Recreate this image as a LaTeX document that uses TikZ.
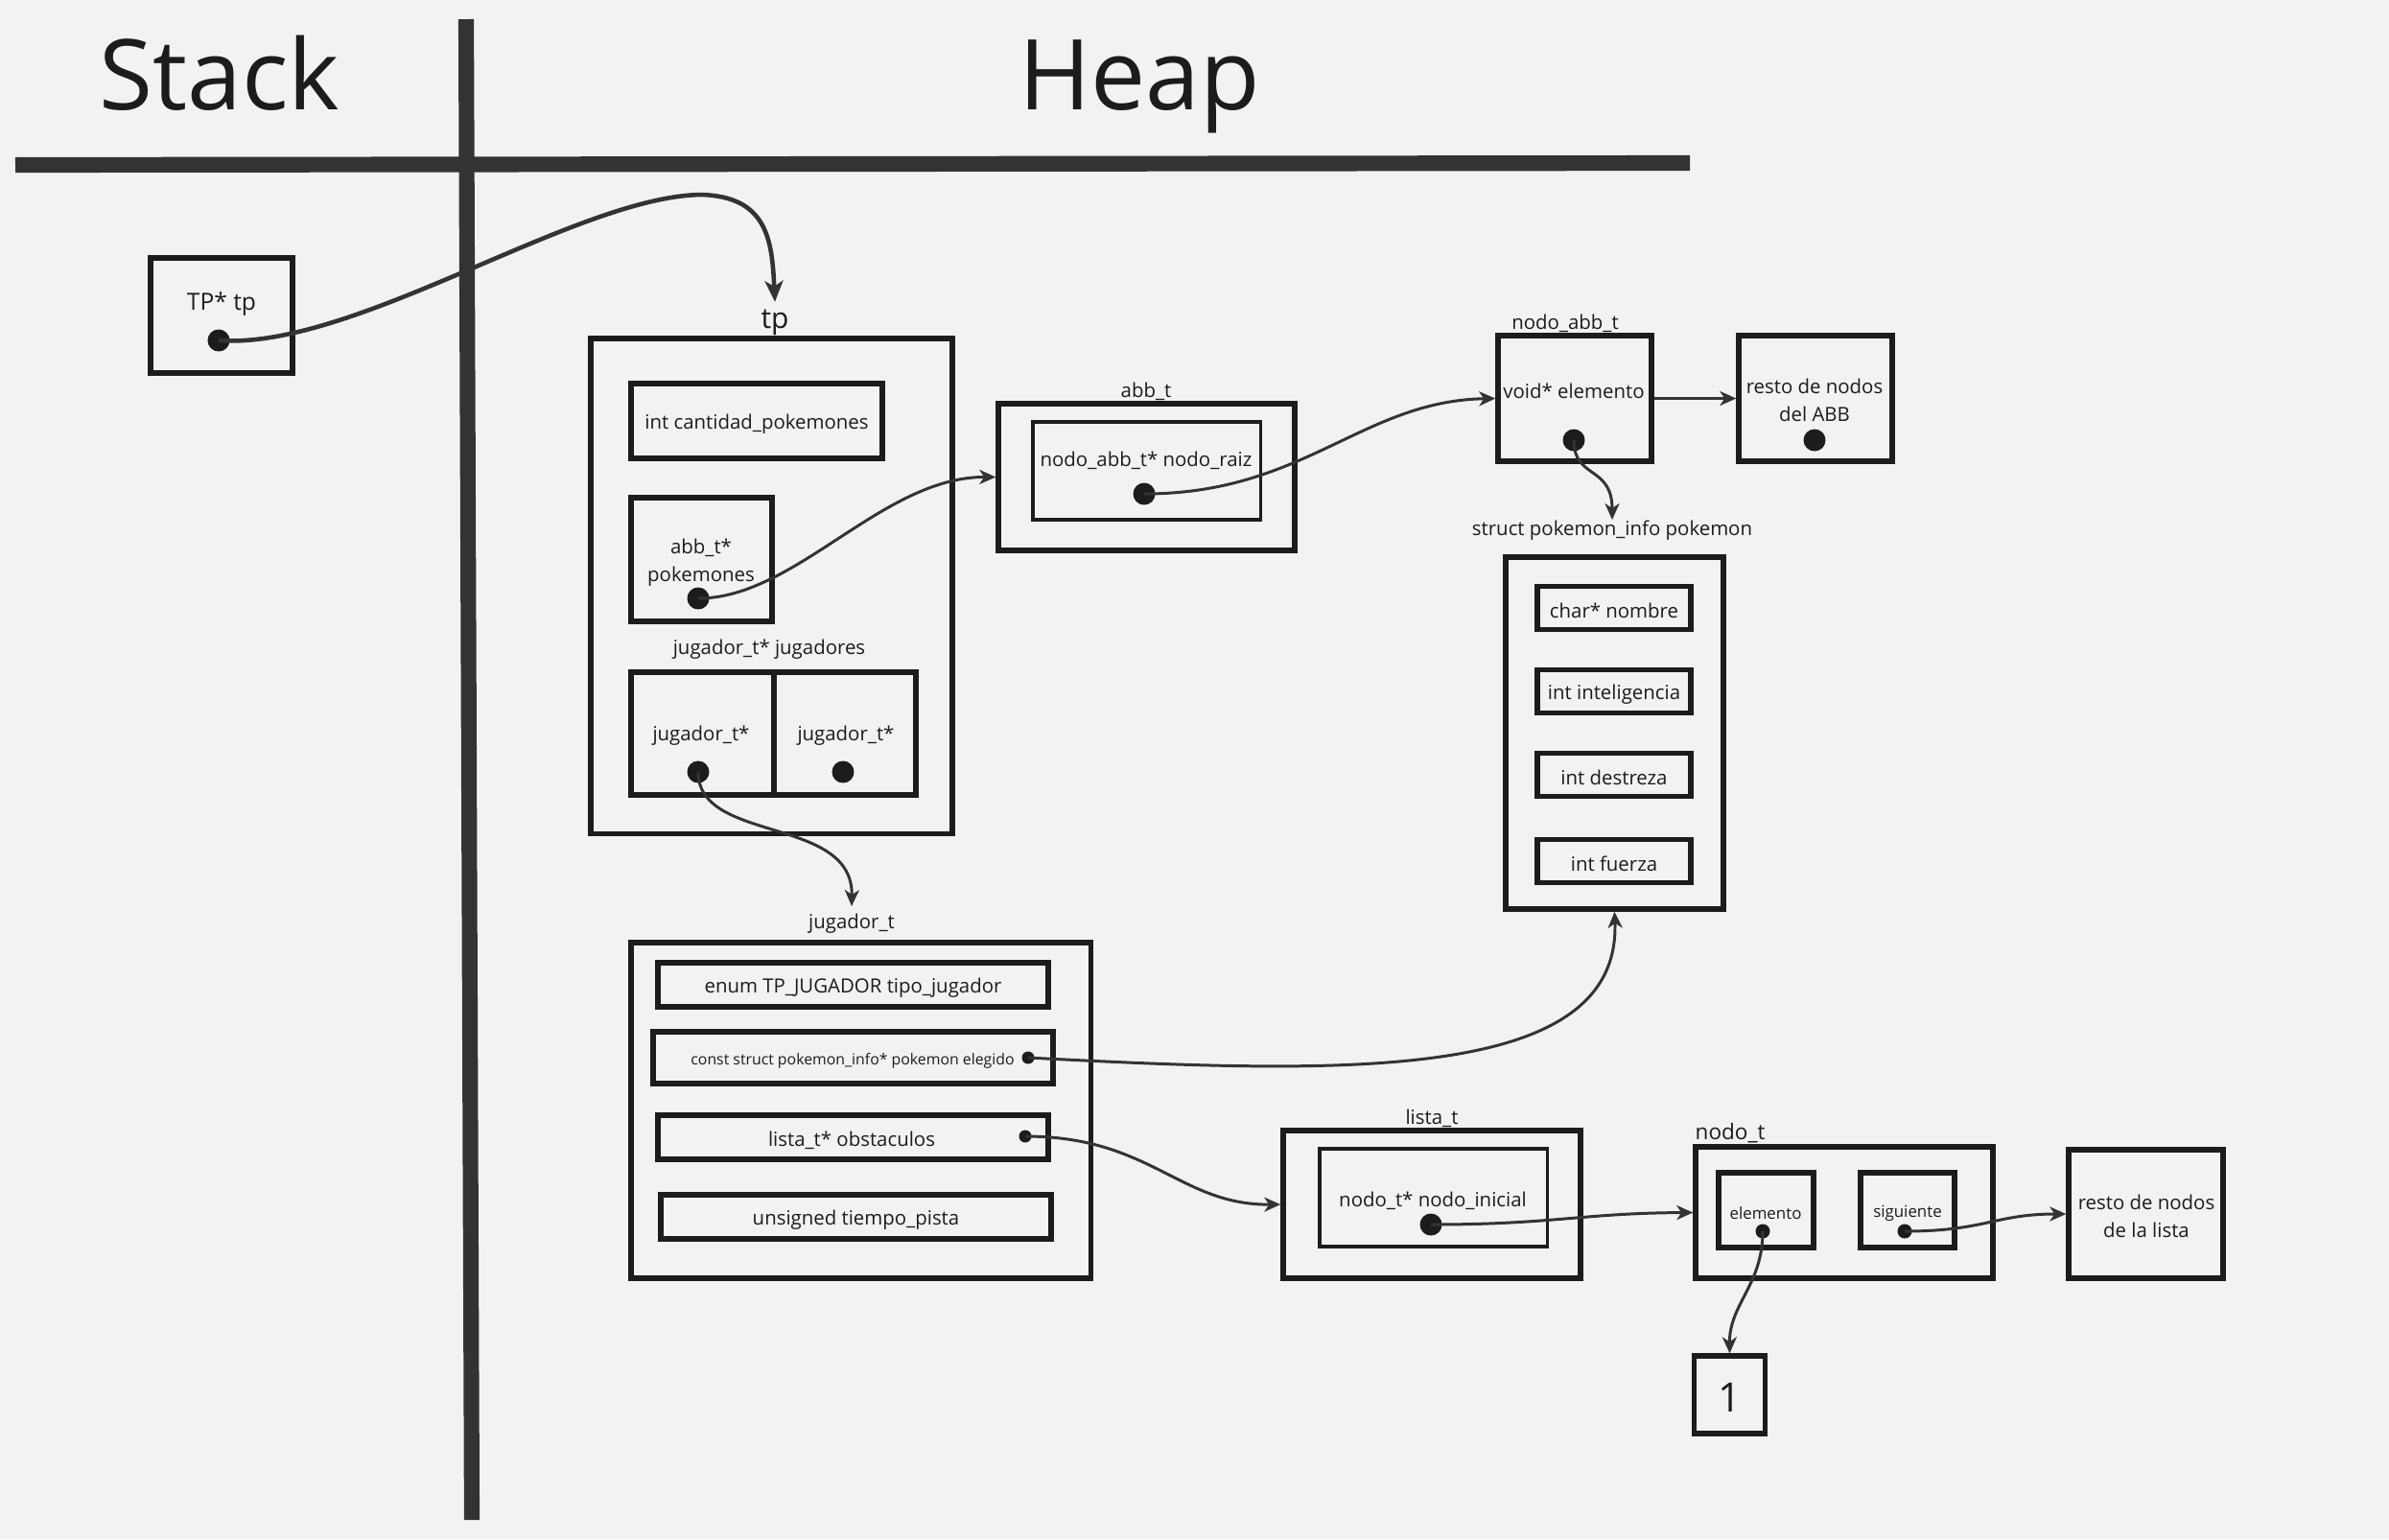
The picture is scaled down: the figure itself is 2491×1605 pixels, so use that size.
\documentclass[tikz,border=0pt]{standalone}
\usepackage{fontspec}
\setmainfont{Open Sans}
\usetikzlibrary{arrows.meta}
\definecolor{bg}{HTML}{F2F2F2}
\definecolor{ink}{HTML}{1C1C1C}
\definecolor{linec}{HTML}{333333}
\begin{document}
\begin{tikzpicture}[x=0.01cm,y=-0.01cm,
  box/.style={draw=ink,line width=1.5pt,inner sep=0pt,anchor=center},
  thinbox/.style={draw=ink,line width=0.9pt,inner sep=0pt,anchor=center},
  txt/.style={text=ink,inner sep=0pt,anchor=center,align=center,yshift=-0.03cm,font=\fontsize{5.8}{8.2}\selectfont},
  lbl/.style={txt},
  smalltxt/.style={txt,font=\fontsize{4.5}{6}\selectfont},
  bigdot/.style={circle,fill=ink,inner sep=0pt,minimum size=0.23cm},
  smalldot/.style={circle,fill=ink,inner sep=0pt,minimum size=0.13cm},
  arr/.style={draw=linec,line width=0.85pt,-{Stealth[length=0.17cm,width=0.15cm,inset=0.05cm]}},
  bigarr/.style={draw=linec,line width=1.3pt,-{Stealth[length=0.22cm,width=0.19cm,inset=0.06cm]}},
  title/.style={text=ink,inner sep=0pt,anchor=base,font=\fontsize{29}{34}\selectfont}
]
\fill[bg] (0,0) rectangle (2491,1605);
\useasboundingbox (0,0) rectangle (2491,1605);

% dividing lines
\draw[linec,line width=4.6pt] (16,172) -- (1762,170);
\draw[linec,line width=4.6pt] (486,20) -- (492,1585);
\node[title] (stack) at (229,114) {Stack};
\node[title] (heap) at (1188,114) {Heap};

% stack variable
\node[box,minimum width=1.48cm,minimum height=1.2cm] (tpstack) at (231,329) {};
\node[txt,font=\fontsize{7}{8}\selectfont] (tpstacktxt) at (231,314) {TP* tp};
\node[bigdot] (tpdot) at (228,355) {};

% tp struct
\node[txt,font=\fontsize{8.5}{10}\selectfont,inner sep=2pt] (tplabel) at (808,333) {tp};
\node[box,minimum width=3.77cm,minimum height=5.16cm] (tpbox) at (804.5,611) {};
\node[box,minimum width=2.62cm,minimum height=0.78cm] (cant) at (789,439) {};
\node[txt] (canttxt) at (789,439) {int cantidad\_pokemones};
\node[box,minimum width=1.47cm,minimum height=1.29cm] (poke) at (731.5,583.5) {};
\node[txt] (poketxt) at (731,584) {abb\_t*\\pokemones};
\node[bigdot] (pokedot) at (728,624) {};
\node[lbl] (jugslbl) at (802,674) {jugador\_t* jugadores};
\node[box,minimum width=1.49cm,minimum height=1.28cm] (jug1) at (732.5,765) {};
\node[box,minimum width=1.48cm,minimum height=1.28cm] (jug2) at (881,765) {};
\node[txt] (jug1txt) at (731,764) {jugador\_t*};
\node[txt] (jug2txt) at (882,764) {jugador\_t*};
\node[bigdot] (jug1dot) at (728,805) {};
\node[bigdot] (jug2dot) at (879,805) {};

% abb_t
\node[lbl] (abblbl) at (1195,405) {abb\_t};
\node[box,minimum width=3.09cm,minimum height=1.53cm] (abb) at (1195.5,497.5) {};
\node[thinbox,minimum width=2.37cm,minimum height=1.02cm] (raiz) at (1195.5,491) {};
\node[txt] (raiztxt) at (1195,477) {nodo\_abb\_t* nodo\_raiz};
\node[bigdot] (raizdot) at (1193,515) {};

% nodo_abb_t
\node[lbl] (nodoabblbl) at (1632,334) {nodo\_abb\_t};
\node[box,minimum width=1.6cm,minimum height=1.31cm] (nodoabb) at (1642,415.5) {};
\node[txt] (nodoabbtxt) at (1641,405) {void* elemento};
\node[bigdot] (nodoabbdot) at (1641,459) {};
\node[box,minimum width=1.6cm,minimum height=1.31cm] (restoabb) at (1893,415.5) {};
\node[txt] (restoabbtxt) at (1892,414) {resto de nodos\\del ABB};
\node[bigdot] (restoabbdot) at (1892,459) {};

% pokemon_info
\node[lbl] (pinfolbl) at (1681,550) {struct pokemon\_info pokemon};
\node[box,minimum width=2.27cm,minimum height=3.67cm] (pinfo) at (1683.5,764.5) {};
\node[box,minimum width=1.6cm,minimum height=0.45cm] (nombre) at (1683,634) {};
\node[txt] (nombretxt) at (1683,634) {char* nombre};
\node[box,minimum width=1.6cm,minimum height=0.45cm] (intel) at (1683,721) {};
\node[txt] (inteltxt) at (1683,721) {int inteligencia};
\node[box,minimum width=1.6cm,minimum height=0.45cm] (destr) at (1683,808) {};
\node[txt] (destrtxt) at (1683,808) {int destreza};
\node[box,minimum width=1.6cm,minimum height=0.45cm] (fuerza) at (1683,898) {};
\node[txt] (fuerzatxt) at (1683,898) {int fuerza};

% jugador_t
\node[lbl,inner sep=2pt] (jugtlbl) at (888,960) {jugador\_t};
\node[box,minimum width=4.79cm,minimum height=3.5cm] (jugt) at (897.5,1158) {};
\node[box,minimum width=4.07cm,minimum height=0.46cm] (tipo) at (889.5,1027) {};
\node[txt] (tipotxt) at (889.5,1027) {enum TP\_JUGADOR tipo\_jugador};
\node[box,minimum width=4.17cm,minimum height=0.54cm] (eleg) at (889.5,1103) {};
\node[smalltxt] (elegtxt) at (889,1103) {const struct pokemon\_info* pokemon elegido};
\node[smalldot] (elegdot) at (1072,1103) {};
\node[box,minimum width=4.07cm,minimum height=0.46cm] (obst) at (889.5,1186) {};
\node[txt] (obsttxt) at (888,1186) {lista\_t* obstaculos};
\node[smalldot] (obstdot) at (1069,1185) {};
\node[box,minimum width=4.07cm,minimum height=0.46cm] (tiempo) at (892.5,1269) {};
\node[txt] (tiempotxt) at (892.5,1269) {unsigned tiempo\_pista};

% lista_t
\node[lbl] (listalbl) at (1493,1163) {lista\_t};
\node[box,minimum width=3.1cm,minimum height=1.54cm] (lista) at (1493,1256) {};
\node[thinbox,minimum width=2.37cm,minimum height=1.02cm] (inicial) at (1494.5,1249) {};
\node[txt] (inicialtxt) at (1494,1249) {nodo\_t* nodo\_inicial};
\node[bigdot] (inicialdot) at (1492,1277) {};

% nodo_t
\node[lbl,anchor=west,font=\fontsize{6.4}{8}\selectfont] (nodotlbl) at (1767,1179) {nodo\_t};
\node[box,minimum width=3.1cm,minimum height=1.37cm] (nodot) at (1923,1264.5) {};
\node[box,minimum width=0.99cm,minimum height=0.78cm] (elem) at (1841.5,1262) {};
\node[txt,font=\fontsize{4.8}{6}\selectfont] (elemtxt) at (1841,1262) {elemento};
\node[smalldot,minimum size=0.15cm] (elemdot) at (1838,1284) {};
\node[box,minimum width=0.98cm,minimum height=0.78cm] (sig) at (1989,1262) {};
\node[txt,font=\fontsize{4.8}{6}\selectfont] (sigtxt) at (1989,1262) {siguiente};
\node[smalldot,minimum size=0.15cm] (sigdot) at (1986,1284) {};
\node[box,minimum width=1.61cm,minimum height=1.34cm] (restolista) at (2237.5,1266) {};
\node[txt] (restolistatxt) at (2238,1265) {resto de nodos\\de la lista};

\node[box,minimum width=0.74cm,minimum height=0.81cm] (one) at (1803.5,1454.5) {};
\node[txt,font=\fontsize{12}{14}\selectfont] (onetxt) at (1803.5,1454) {1};

% connectors
\draw[bigarr] (tpdot.center) .. controls (370,365) and (600,205) .. (731,203)
   .. controls (800,205) and (805,250) .. (tplabel.north);
\draw[arr] (pokedot.center) .. controls (830,624) and (920,497) .. (abb.west);
\draw[arr] (raizdot.center) .. controls (1360,515) and (1420,418) .. (nodoabb.west);
\draw[arr] (nodoabb.east) -- (restoabb.west);
\draw[arr] (nodoabbdot.center) .. controls (1641,500) and (1681,485) .. (pinfolbl.north);
\draw[arr] (jug1dot.center) .. controls (728,880) and (890,850) .. (jugtlbl.north);
\draw[arr] (elegdot.center) .. controls (1400,1120) and (1690,1130) .. (pinfo.south);
\draw[arr] (obstdot.center) .. controls (1200,1185) and (1230,1257) .. (lista.west);
\draw[arr] (inicialdot.center) .. controls (1620,1277) and (1650,1265) .. (nodot.west);
\draw[arr] (sigdot.center) .. controls (2070,1284) and (2080,1266) .. (restolista.west);
\draw[arr] (elemdot.center) .. controls (1838,1340) and (1803,1360) .. (one.north);
\end{tikzpicture}
\end{document}
